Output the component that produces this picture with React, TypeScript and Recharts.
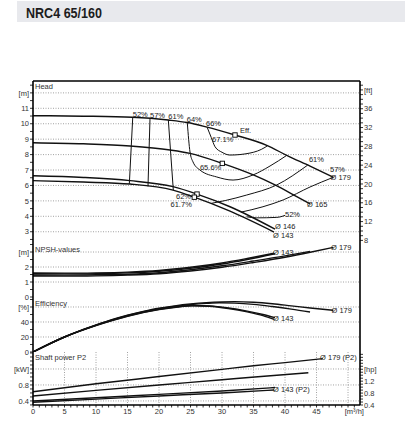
import React from 'react';
import { ComposedChart, Line, XAxis, YAxis, CartesianGrid } from 'recharts';

const FONT = "'Liberation Sans', Arial, Helvetica, sans-serif";
const INK = '#333';
const W = 405;
const Q_MAX = 51.9;

type P = { q: number; v: number };
type LP = { q: number; v: number; t: string };
const pts = (arr: number[][]): P[] => arr.map(([q, v]) => ({ q, v }));
const lab = (arr: [number, number, string][]): LP[] => arr.map(([q, v, t]) => ({ q, v, t }));

// ---------- axes ----------
const steps = (a: number, b: number, s: number) => {
  const out: number[] = [];
  for (let v = a; v <= b + 1e-9; v += s) out.push(Math.round(v * 100) / 100);
  return out;
};
const flowTicks = steps(0, 51, 1);
const flowLabels: [number, string][] = [[0, '0'], [5, '5'], [10, '10'], [15, '15'], [20, '20'], [25, '25'], [30, '30'], [35, '35'], [40, '40'], [45, '45'], [51, '[m³/h]']];
const lsTicks = steps(0, 14, 0.5);
const lsLabels: [number, string][] = [[0, '0'], [2, '2'], [4, '4'], [6, '6'], [8, '8'], [10, '10'], [12, '12'], [14, '[l/s]']];
const gridQ = [5, 10, 15, 20, 25, 30, 35, 40, 45, 50];

const HEAD_DOMAIN: [number, number] = [2.27, 12.77];
const headTicks = steps(2.5, 12.5, 0.5);
const headLabels: [number, string][] = [[3, '3'], [4, '4'], [5, '5'], [6, '6'], [7, '7'], [8, '8'], [9, '9'], [10, '10'], [11, '11'], [12, '[m]']];
const headGrid = [3, 4, 5, 6, 7, 8, 9, 10, 11, 12];
const FT_DOMAIN: [number, number] = [2.27 * 3.28084, 12.77 * 3.28084];
const ftTicks = steps(8, 41, 1);
const ftLabels: [number, string][] = [[8, '8'], [12, '12'], [16, '16'], [20, '20'], [24, '24'], [28, '28'], [32, '32'], [36, '36'], [40, '[ft]']];

const NPSH_DOMAIN: [number, number] = [0, 3.6];
const npshTicks = steps(0, 3.5, 0.5);
const npshLabels: [number, string][] = [[0, '0'], [1, '1'], [2, '2'], [3, '[m]']];
const npshGrid = [1, 2, 3];

const EFF_DOMAIN: [number, number] = [0, 73.33];
const effTicks = steps(0, 70, 10);
const effLabels: [number, string][] = [[0, '0'], [20, '20'], [40, '40'], [60, '[%]']];
const effGrid = [20, 40, 60];

const KW_DOMAIN: [number, number] = [0.2983, 1.625];
const kwTicks = steps(0.3, 1.6, 0.1);
const kwLabels: [number, string][] = [[0.4, '0.4'], [0.8, '0.8'], [1.2, '[kW]']];
const kwGrid = [0.4, 0.8, 1.2];
const HP_DOMAIN: [number, number] = [0.4, 1.625 / 0.7457];
const hpTicks = steps(0.4, 2.1, 0.1);
const hpLabels: [number, string][] = [[0.4, '0.4'], [0.8, '0.8'], [1.2, '1.2'], [1.6, '[hp]']];

// ---------- head (Q m³/h, H m) ----------
const head179 = pts([[0, 10.52], [8, 10.49], [15.76, 10.42], [21.48, 10.24], [24.49, 10.08], [27.46, 9.8], [32.06, 9.27], [37.1, 8.6], [40.27, 7.95], [43.97, 7.25], [47.67, 6.53]]);
const head165 = pts([[0, 8.77], [8, 8.7], [15.4, 8.56], [21.75, 8.3], [24.92, 8.08], [30.05, 7.43], [34.97, 6.68], [38.41, 6.03], [41.86, 5.27], [43.97, 4.8]]);
const head146 = pts([[0, 6.63], [8, 6.52], [15.4, 6.31], [22.22, 5.92], [26.03, 5.44], [31.27, 4.62], [38.41, 3.17]]);
const head143 = pts([[0, 6.31], [8, 6.22], [15.4, 6.09], [22.22, 5.7], [25.6, 5.24], [31.27, 4.33], [38.25, 2.98]]);

const iso52L = pts([[15.29, 6.1], [15.83, 10.42]]);
const iso57L = pts([[18.25, 5.94], [18.57, 10.34]]);
const iso61L = pts([[21.48, 10.24], [22.27, 5.69]]);
const iso64 = pts([[24.49, 10.07], [24.92, 8.17], [25.4, 7.52], [26.5, 7.0], [29.16, 6.55], [31.75, 6.35], [34.92, 6.68], [37.62, 7.26], [40.27, 7.95]]);
const iso66 = pts([[27.67, 9.74], [28.3, 9.1], [28.89, 8.51], [30, 8.15], [31.27, 7.97], [34.44, 8.1], [36.83, 8.47], [37.2, 8.57]]);
const iso61R = pts([[28.3, 4.84], [30.5, 5.02], [33.92, 5.38], [38.68, 6.03], [43.6, 7.32]]);
const iso57R = pts([[33.0, 4.27], [36.5, 4.62], [39.7, 5.06], [43.97, 5.9], [47.67, 6.53]]);
const iso52R = pts([[33.9, 3.97], [35.5, 3.9], [38.7, 3.93], [40.0, 4.06]]);

const bepPoints = pts([[32.06, 9.27], [30.05, 7.43], [26.03, 5.44], [25.6, 5.24]]);

const headTexts = lab([
  [15.83, 10.44, '52%'], [18.57, 10.38, '57%'], [21.48, 10.29, '61%'], [24.4, 10.11, '64%'], [27.46, 9.88, '66%'],
  [28.41, 8.82, '67.1%'], [32.86, 9.37, 'Eff.'], [26.5, 7.0, '65.6%'], [22.7, 5.14, '62%'], [21.83, 4.58, '61.7%'],
  [43.8, 7.49, '61%'], [47.14, 6.88, '57%'], [47.22, 6.37, 'Ø 179'], [43.49, 4.62, 'Ø 165'], [40.0, 3.95, '52%'],
  [38.41, 3.18, 'Ø 146'], [38.1, 2.62, 'Ø 143'],
]);

// ---------- NPSH ----------
const npsh179 = pts([[0, 1.4], [5, 1.39], [10, 1.41], [15, 1.46], [20, 1.55], [25, 1.73], [30, 1.98], [35, 2.3], [40, 2.65], [44, 2.98], [47.67, 3.31]]);
const npsh165 = pts([[0, 1.47], [5, 1.46], [10, 1.48], [15, 1.52], [20, 1.62], [25, 1.82], [30, 2.08], [35, 2.4], [40, 2.74], [43.97, 3.04]]);
const npsh146 = pts([[0, 1.55], [5, 1.54], [10, 1.56], [15, 1.61], [20, 1.72], [25, 1.92], [30, 2.2], [34, 2.5], [38.41, 2.88]]);
const npsh143 = pts([[0, 1.6], [5, 1.59], [10, 1.61], [15, 1.66], [20, 1.77], [25, 1.98], [30, 2.27], [34, 2.57], [38.25, 2.92]]);
const npshTexts = lab([[38.1, 2.77, 'Ø 143'], [47.3, 3.13, 'Ø 179']]);

// ---------- Efficiency ----------
const eff179 = pts([[0, 0], [2.5, 10.5], [5, 20], [7.5, 28.5], [10, 36], [12.5, 43], [15, 49], [17.5, 54], [20, 58.3], [22.5, 61.5], [25, 64], [27.5, 65.8], [30, 66.8], [32, 67.1], [35, 66.3], [38, 64.3], [41, 61.5], [44, 58.7], [47.67, 55.6]]);
const eff165 = pts([[0, 0], [5, 20], [10, 35.8], [15, 48.8], [20, 57.8], [25, 63.2], [27.5, 64.8], [29.6, 65.6], [32, 65.2], [35, 63.5], [38, 60.6], [41, 57.2], [43.97, 53.3]]);
const eff146 = pts([[0, 0], [5, 20], [10, 35.5], [15, 48], [20, 56.8], [23, 60.3], [25.6, 62], [28, 61.5], [31, 58.8], [34, 54.5], [36.5, 50], [38.41, 45.8]]);
const eff143 = pts([[0, 0], [5, 20], [10, 35.3], [15, 47.7], [20, 56.5], [23, 60], [25.2, 61.7], [28, 61], [31, 58], [34, 53.5], [36.5, 48.5], [38.25, 43.5]]);
const effTexts = lab([[47.38, 52.4, 'Ø 179'], [38.1, 40.8, 'Ø 143']]);

// ---------- Shaft power ----------
const pow179 = pts([[0, 0.631], [10, 0.83], [20, 1.01], [30, 1.19], [35, 1.28], [40, 1.36], [46, 1.46]]);
const pow165 = pts([[0, 0.524], [10, 0.665], [20, 0.8], [30, 0.93], [35.2, 1.0], [43.7, 1.107]]);
const pow146 = pts([[0, 0.398], [10, 0.48], [20, 0.565], [30, 0.65], [38.41, 0.736]]);
const pow143 = pts([[0, 0.366], [10, 0.445], [20, 0.525], [30, 0.6], [38.25, 0.674]]);
const powTexts = lab([[45.56, 1.425, 'Ø 179 (P2)'], [38.1, 0.624, 'Ø 143 (P2)']]);

// ---------- helpers ----------
const tickText = (labels: [number, string][], anchor: 'start' | 'middle' | 'end', dy: string | number, dx = 0) =>
  (props: any) => {
    const v = props?.payload?.value;
    const hit = labels.find(([k]) => Math.abs(k - v) < 1e-6);
    if (!hit) return <g />;
    return (
      <text x={props.x + dx} y={props.y} dy={dy} textAnchor={anchor} fontSize={7.5} fontFamily={FONT} fill={INK}>
        {hit[1]}
      </text>
    );
  };

const FRAME = { stroke: '#000', strokeWidth: 1.6 };
const SEP = { stroke: '#000', strokeWidth: 2.3 };
const TL = { stroke: '#000', strokeWidth: 0.8 };
const M = { top: 6, right: 0, bottom: 6, left: 0 };

const curve = (data: P[], key: string, w = 1.4, type: any = 'monotone') => (
  <Line key={key} data={data} dataKey="v" xAxisId="q" yAxisId="L" type={type} stroke="#111" strokeWidth={w}
    dot={false} activeDot={false} isAnimationActive={false} legendType="none" />
);

const texts = (data: LP[], key: string) => (
  <Line key={key} data={data} dataKey="v" xAxisId="q" yAxisId="L" stroke="none" strokeWidth={0}
    activeDot={false} isAnimationActive={false} legendType="none"
    dot={(p: any) => (p.cx == null ? <g key={`${key}-${p.index}`} /> :
      <text key={`${key}-${p.index}`} x={p.cx} y={p.cy} fontSize={7.5} fontFamily={FONT} fill="#222">{p.payload.t}</text>)} />
);

const squares = (data: P[], key: string) => (
  <Line key={key} data={data} dataKey="v" xAxisId="q" yAxisId="L" stroke="none" strokeWidth={0}
    activeDot={false} isAnimationActive={false} legendType="none"
    dot={(p: any) => (p.cx == null ? <g key={`${key}-${p.index}`} /> :
      <rect key={`${key}-${p.index}`} x={p.cx - 2.2} y={p.cy - 2.2} width={4.4} height={4.4} fill="#fff" stroke="#000" strokeWidth={0.9} />)} />
);

const grid = (hVals: number[]) => (
  <CartesianGrid xAxisId="q" yAxisId="L" verticalValues={gridQ} horizontalValues={hVals}
    stroke="#8a8a8a" strokeWidth={0.8} strokeDasharray="1 1.5" />
);

const leftAxis = (domain: [number, number], ticks: number[], labels: [number, string][]) => (
  <YAxis yAxisId="L" type="number" domain={domain} ticks={ticks} interval={0} width={33} tickSize={3} tickMargin={1}
    tick={tickText(labels, 'end', '0.35em')} tickLine={TL} axisLine={FRAME} allowDataOverflow />
);

const rightAxis = (domain: [number, number], ticks: number[], labels: [number, string][]) => (
  <YAxis yAxisId="R" orientation="right" type="number" domain={domain} ticks={ticks} interval={0} width={45} tickSize={3}
    tickMargin={1} tick={tickText(labels, 'start', '0.35em')} tickLine={TL} axisLine={FRAME} allowDataOverflow />
);

const plainRight = (
  <YAxis yAxisId="R" orientation="right" type="number" domain={[0, 1]} width={45} tick={false} tickLine={false} axisLine={FRAME} />
);
const topSep = (
  <XAxis xAxisId="t" orientation="top" type="number" domain={[0, 1]} height={0} tick={false} tickLine={false} axisLine={SEP} />
);
const bottomSep = (
  <XAxis xAxisId="q" dataKey="q" type="number" domain={[0, Q_MAX]} height={0} tick={false} tickLine={false} axisLine={SEP} allowDataOverflow />
);

function HeadChart() {
  return (
    <ComposedChart width={W} height={195} margin={M}>
      <XAxis xAxisId="ls" orientation="top" type="number" domain={[0, Q_MAX / 3.6]} ticks={lsTicks} interval={0} height={21}
        tickSize={2.5} tickMargin={1.8} tick={tickText(lsLabels, 'middle', 0, 0)} tickLine={TL} axisLine={FRAME} allowDataOverflow />
      {bottomSep}
      {leftAxis(HEAD_DOMAIN, headTicks, headLabels)}
      {rightAxis(FT_DOMAIN, ftTicks, ftLabels)}
      {grid(headGrid)}
      {curve(head179, 'h179')}
      {curve(head165, 'h165')}
      {curve(head146, 'h146')}
      {curve(head143, 'h143')}
      {curve(iso52L, 'i52l', 1, 'linear')}
      {curve(iso57L, 'i57l', 1, 'linear')}
      {curve(iso61L, 'i61l', 1, 'linear')}
      {curve(iso64, 'i64', 1)}
      {curve(iso66, 'i66', 1)}
      {curve(iso61R, 'i61r', 1)}
      {curve(iso57R, 'i57r', 1)}
      {curve(iso52R, 'i52r', 1)}
      {squares(bepPoints, 'bep')}
      {texts(headTexts, 'ht')}
    </ComposedChart>
  );
}

function NpshChart() {
  return (
    <ComposedChart width={W} height={66} margin={M}>
      {topSep}
      {bottomSep}
      {leftAxis(NPSH_DOMAIN, npshTicks, npshLabels)}
      {plainRight}
      {grid(npshGrid)}
      {curve(npsh179, 'n179')}
      {curve(npsh165, 'n165')}
      {curve(npsh146, 'n146')}
      {curve(npsh143, 'n143')}
      {texts(npshTexts, 'nt')}
    </ComposedChart>
  );
}

function EffChart() {
  return (
    <ComposedChart width={W} height={67} margin={M}>
      {topSep}
      {bottomSep}
      {leftAxis(EFF_DOMAIN, effTicks, effLabels)}
      {plainRight}
      {grid(effGrid)}
      {curve(eff179, 'e179')}
      {curve(eff165, 'e165')}
      {curve(eff146, 'e146')}
      {curve(eff143, 'e143')}
      {texts(effTexts, 'et')}
    </ComposedChart>
  );
}

function PowerChart() {
  return (
    <ComposedChart width={W} height={80} margin={M}>
      {topSep}
      <XAxis xAxisId="q" dataKey="q" type="number" domain={[0, Q_MAX]} ticks={flowTicks} interval={0} height={15}
        tickSize={2.5} tickMargin={0.8} tick={tickText(flowLabels, 'middle', '0.71em')} tickLine={TL} axisLine={FRAME} allowDataOverflow />
      {leftAxis(KW_DOMAIN, kwTicks, kwLabels)}
      {rightAxis(HP_DOMAIN, hpTicks, hpLabels)}
      {grid(kwGrid)}
      {curve(pow179, 'p179')}
      {curve(pow165, 'p165')}
      {curve(pow146, 'p146')}
      {curve(pow143, 'p143')}
      {texts(powTexts, 'pt')}
    </ComposedChart>
  );
}

const abs = (top: number): React.CSSProperties => ({ position: 'absolute', left: 0, top });

export default function App() {
  return (
    <div style={{ position: 'absolute', left: 0, top: 0, width: 405, height: 441, background: '#fff', overflow: 'hidden' }}>
      <div style={{ position: 'absolute', left: 17, top: 1, width: 388, height: 21, background: '#e8e9ed' }} />
      <div style={abs(54)}><HeadChart /></div>
      <div style={abs(237)}><NpshChart /></div>
      <div style={abs(291)}><EffChart /></div>
      <div style={abs(346)}><PowerChart /></div>
      <svg width={405} height={441} style={{ position: 'absolute', left: 0, top: 0, pointerEvents: 'none' }}>
        <text x={26} y={18.3} fontSize={15} fontWeight={700} fontFamily={FONT} fill="#1d1d1d" textLength={76} lengthAdjust="spacingAndGlyphs">NRC4 65/160</text>
        <text x={35} y={89} fontSize={7.5} fontFamily={FONT} fill={INK}>Head</text>
        <text x={35} y={252} fontSize={7.5} fontFamily={FONT} fill={INK}>NPSH-values</text>
        <text x={35} y={305.5} fontSize={7.5} fontFamily={FONT} fill={INK}>Efficiency</text>
        <text x={35} y={359.5} fontSize={7.5} fontFamily={FONT} fill={INK}>Shaft power P2</text>
      </svg>
    </div>
  );
}
